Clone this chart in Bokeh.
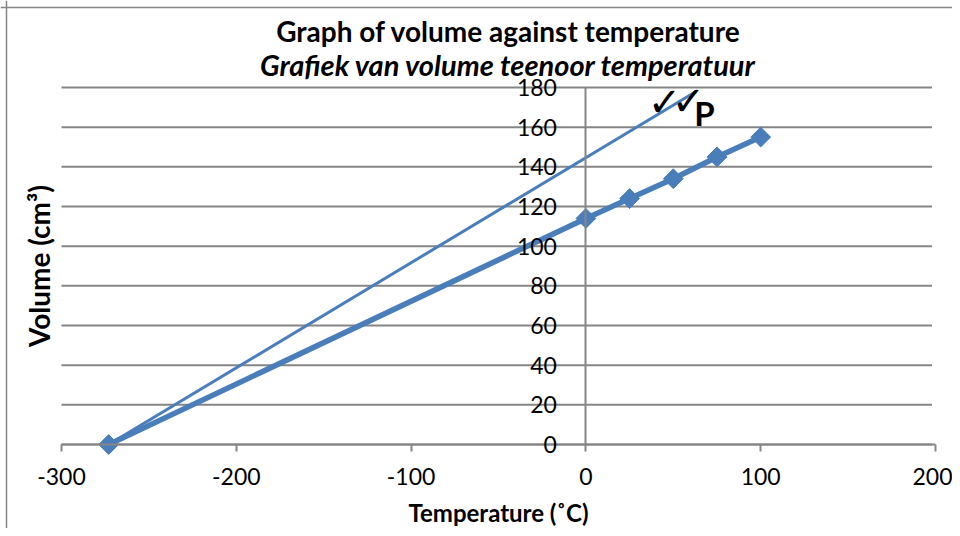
import math
from bokeh.plotting import figure
from bokeh.models import Range1d, LinearAxis, FixedTicker, Span
from bokeh.core.properties import value
from bokeh.embed import file_html
from bokeh.resources import INLINE

# ---- data ----
temperature = [-273, 0, 25, 50, 75, 100]
volume = [0, 114, 124, 134, 145, 155]
tangent_temperature = [-273, 63]
tangent_volume = [0, 178]
x_ticks = [-300, -200, -100, 0, 100, 200]
x_tick_labels = ["-300", "-200", "-100", "0", "100", "200"]
y_ticks = [0, 20, 40, 60, 80, 100, 120, 140, 160, 180]
tick_marks_x = [45, 58.7]
tick_marks_y = [172.5, 173]
tick_marks_text = ["\u2713", "\u2713"]
p_label_x = [67.8]
p_label_y = [167]
p_label_text = ["P"]
title_text = "Graph of volume against temperature"
subtitle_text = "Grafiek van volume teenoor temperatuur"
x_title = "Temperature (\u02daC)"
y_title = "Volume (cm\u00b3)"

# ---- layout (pixels) ----
W, H = 952, 528
X_LEFT_PX, X_RIGHT_PX = 61, 935      # pixel of x=-300 and x=200
Y_TOP_PX, Y_BOTTOM_PX = 87, 444      # pixel of y=180 and y=0
sx = (X_RIGHT_PX - X_LEFT_PX) / (x_ticks[-1] - x_ticks[0])
sy = (Y_BOTTOM_PX - Y_TOP_PX) / (y_ticks[-1] - y_ticks[0])
x_start = x_ticks[0] - X_LEFT_PX / sx
x_end = x_ticks[-1] + (W - X_RIGHT_PX) / sx
y_start = y_ticks[0] - (H - Y_BOTTOM_PX) / sy
y_end = y_ticks[-1] + Y_TOP_PX / sy


def dx(px):
    return x_start + px / sx


def dy(py):
    return y_end - py / sy


FONT = "Lato"
BLUE = "#4A7EBB"
GRID = "#868686"

p = figure(width=W, height=H, output_backend="svg", toolbar_location=None,
           title=None, x_range=Range1d(x_start, x_end), y_range=Range1d(y_start, y_end),
           min_border_left=0, min_border_right=0, min_border_top=0, min_border_bottom=0)
p.outline_line_color = None
p.background_fill_color = "white"
p.border_fill_color = "white"
p.xgrid.visible = False
p.ygrid.visible = False

# chart-area border
p.add_layout(Span(location=dx(6), dimension="height", line_color=GRID, line_width=1.5))
p.add_layout(Span(location=dy(7), dimension="width", line_color=GRID, line_width=1.5))

# horizontal gridlines
p.segment(x0=[x_ticks[0]] * len(y_ticks), x1=[x_ticks[-1] - 2] * len(y_ticks),
          y0=y_ticks, y1=y_ticks, line_color=GRID, line_width=2)

xa = p.xaxis[0]
xa.fixed_location = 0
xa.bounds = (x_ticks[0], x_ticks[-1])
xa.ticker = FixedTicker(ticks=x_ticks)
xa.major_label_overrides = {t: s for t, s in zip(x_ticks, x_tick_labels)}
xa.axis_line_color = GRID
xa.axis_line_width = 2
xa.major_tick_out = 7
xa.major_tick_in = 0
xa.minor_tick_out = 0
xa.minor_tick_in = 0
xa.major_tick_line_color = GRID
xa.major_tick_line_width = 2
xa.major_label_standoff = 16
xa.major_label_text_font = FONT
xa.major_label_text_font_size = "23px"
xa.major_label_text_color = "black"
xa.axis_label = x_title
xa.axis_label_text_font = FONT
xa.axis_label_text_font_style = "bold"
xa.axis_label_text_font_size = "24px"
xa.axis_label_text_color = "black"
xa.axis_label_standoff = 10

ya = p.yaxis[0]
ya.fixed_location = 0
ya.bounds = (y_ticks[0], y_ticks[-1])
ya.ticker = FixedTicker(ticks=y_ticks)
ya.axis_line_color = GRID
ya.axis_line_width = 2
ya.major_tick_out = 0
ya.major_tick_in = 0
ya.minor_tick_out = 0
ya.minor_tick_in = 0
ya.major_label_standoff = 29
ya.major_label_text_font = FONT
ya.major_label_text_font_size = "23px"
ya.major_label_text_color = "black"

yl = LinearAxis(fixed_location=x_ticks[0], bounds=(y_ticks[0], y_ticks[-1]),
                ticker=FixedTicker(ticks=[]), axis_line_color=None,
                major_tick_line_color=None, minor_tick_line_color=None,
                axis_label=y_title, axis_label_text_font=FONT,
                axis_label_text_font_style="bold", axis_label_text_font_size="28px",
                axis_label_text_color="black", axis_label_standoff=6)
p.add_layout(yl, "left")

# titles
p.text([dx(508)], [dy(30)], text=[title_text], text_font=value(FONT),
       text_font_style="bold", text_font_size="28px", text_color="black",
       text_align="center", text_baseline="middle")
p.text([dx(508)], [dy(64)], text=[subtitle_text], text_font=value(FONT),
       text_font_style="bold italic", text_font_size="29px", text_color="black",
       text_align="center", text_baseline="middle")

p.line(tangent_temperature, tangent_volume, line_color=BLUE, line_width=3)
p.line(temperature, volume, line_color=BLUE, line_width=5.5)
p.scatter(temperature, volume, marker="square", angle=math.pi / 4, size=14,
          fill_color=BLUE, line_color=BLUE)

p.text(tick_marks_x, tick_marks_y, text=tick_marks_text, text_font=value("DejaVu Sans"),
       text_font_size="40px", text_color="black", text_align="center", text_baseline="middle")
p.text(p_label_x, p_label_y, text=p_label_text, text_font=value(FONT),
       text_font_style="bold", text_font_size="33px", text_color="black",
       text_align="center", text_baseline="middle")

open("out.html", "w").write(file_html(p, INLINE))
